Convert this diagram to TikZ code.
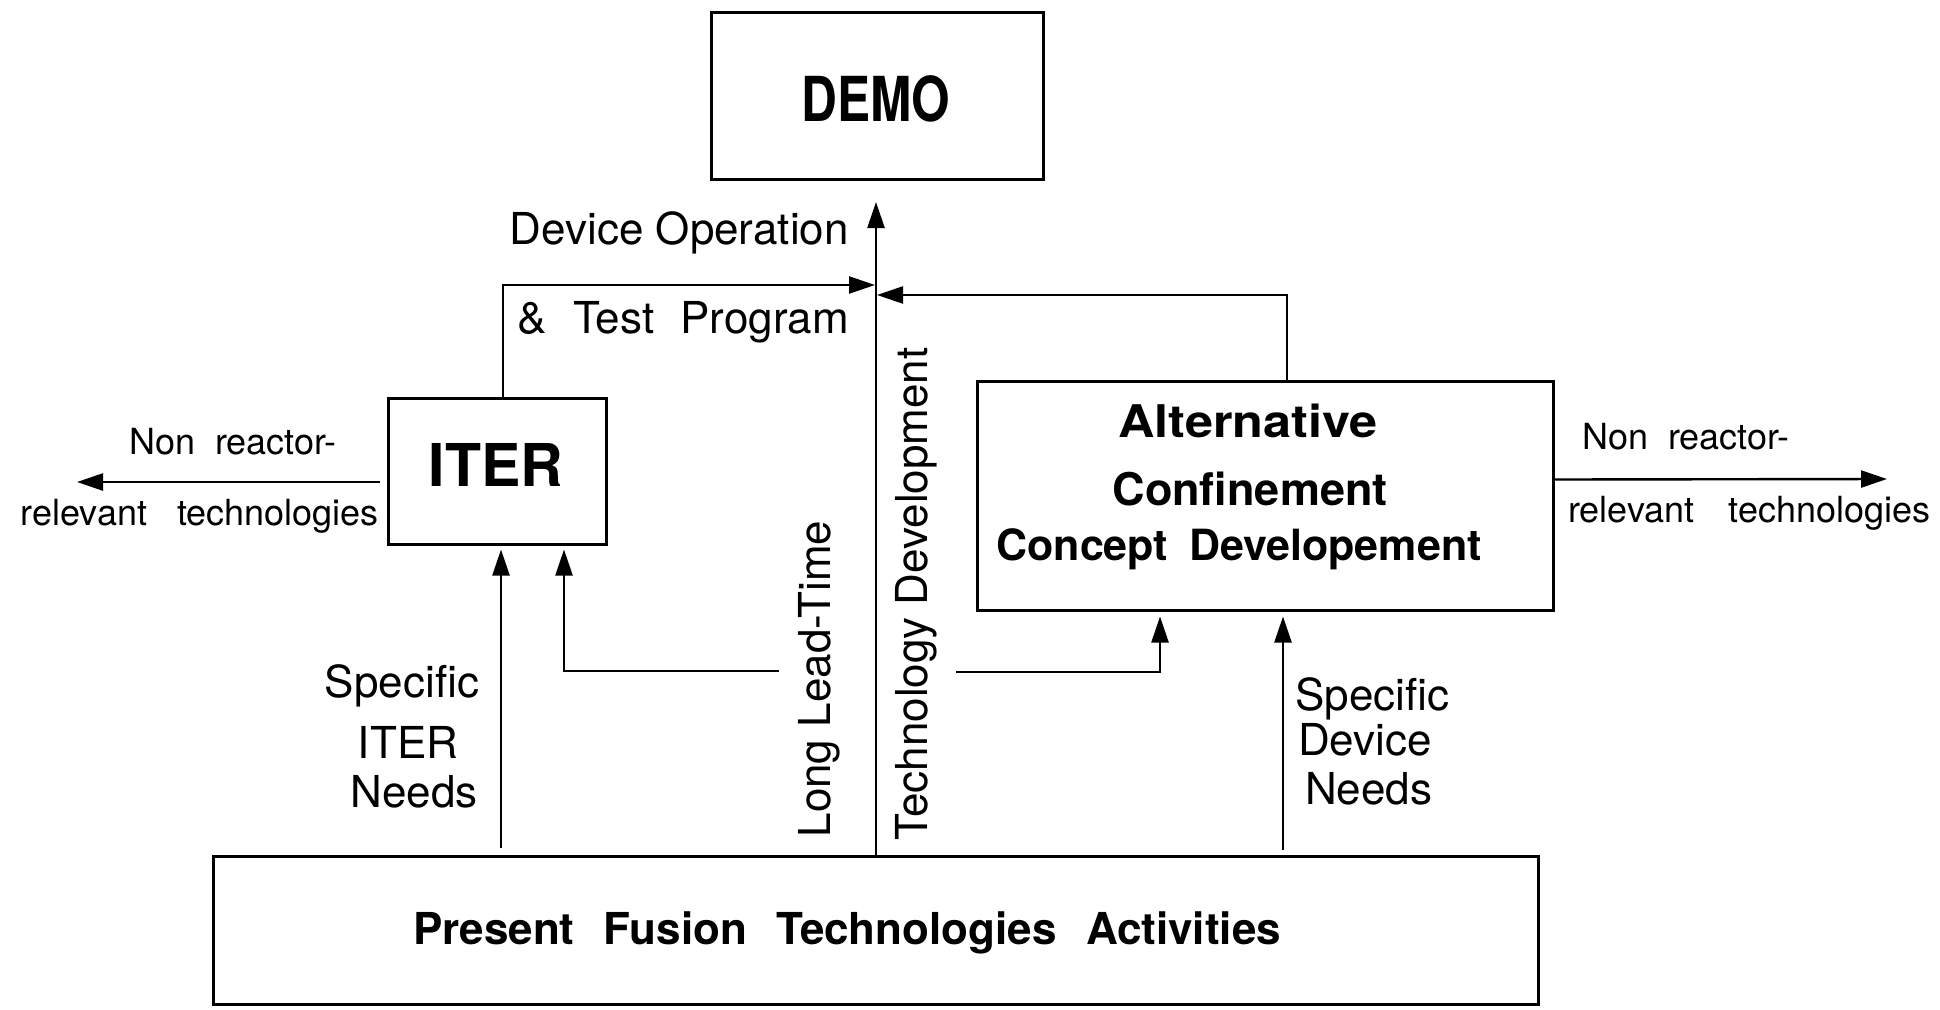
\documentclass[tikz,border=0pt]{standalone}
\usepackage{fontspec}
\setmainfont{TeX Gyre Heros}
\usepackage{graphicx}
\usetikzlibrary{arrows.meta,calc}
\begin{document}
\begin{tikzpicture}[x=1pt,y=-1pt,
  box/.style={draw,line width=3pt,inner sep=0pt},
  arr/.style={line width=2.4pt,-{Triangle[length=26pt,width=17pt]}},
  lab/.style={inner sep=0pt,font=\fontsize{44}{50}\selectfont},
  side/.style={inner sep=0pt,font=\fontsize{36}{40}\selectfont},
  btxt/.style={inner sep=0pt,font=\fontsize{45}{50}\selectfont\bfseries},
]
\useasboundingbox (0,0) rectangle (1940,1009);
\fill[white] (0,0) rectangle (1940,1009);

% boxes
\node[box,minimum width=332pt,minimum height=167pt] (demo) at (877,95.5) {};
\node[box,minimum width=218pt,minimum height=146pt] (iter) at (497,471) {};
\node[box,minimum width=576pt,minimum height=229pt] (alt) at (1265,495.5) {};
\node[box,minimum width=1325pt,minimum height=148pt] (pf) at (875.5,930) {};

% box texts
\node[inner sep=0pt,font=\fontsize{62}{62}\selectfont\bfseries] (demot) at (876,99) {\scalebox{0.8}[1]{DEMO}};
\node[inner sep=0pt,font=\fontsize{59}{60}\selectfont\bfseries] (itert) at (496,465) {ITER};
\node[btxt] (alt1) at (1248,421) {\scalebox{1.12}[1]{Alternative}};
\node[btxt] (alt2) at (1250,489) {Confinement};
\node[btxt,font=\fontsize{43}{50}\selectfont\bfseries] (alt3) at (1239,549) {Concept\hspace{9pt} Developement};
\node[btxt,font=\fontsize{44}{50}\selectfont\bfseries] (pft) at (847,933) {Present\hspace{17pt} Fusion\hspace{17pt} Technologies\hspace{17pt} Activities};

% labels
\node[lab,anchor=east] (dop) at (849,233) {Device Operation};
\node[lab,anchor=east] (tp) at (849,322) {\&\hspace{14pt} Test\hspace{14pt} Program};
\node[side] (lnr) at (233,442) {Non\hspace{10pt} reactor-};
\node[side,anchor=east] (lrt) at (379,516) {relevant\hspace{20pt} technologies};
\node[side] (rnr) at (1686,437) {Non\hspace{10pt} reactor-};
\node[side,anchor=west] (rrt) at (1568,513) {relevant\hspace{24pt} technologies};
\node[lab] (s1) at (402,686) {Specific};
\node[lab] (s2) at (408,742) {ITER};
\node[lab] (s3) at (414,792) {Needs};
\node[lab,anchor=west] (d1) at (1295,699) {Specific};
\node[lab,anchor=west] (d2) at (1298,740) {Device};
\node[lab,anchor=west] (d3) at (1305,789) {Needs};
\node[lab,rotate=90] (llt) at (819,679) {Long Lead-Time};
\node[lab,rotate=90] (tdv) at (916,594) {Technology Development};

% coordinates
\coordinate (tip) at (876,202);
\coordinate (jl) at (875,285);
\coordinate (jr) at (877,295);
\coordinate (lend) at (77,482);
\coordinate (rend) at (1887,479);
\coordinate (lls) at (779,671);
\coordinate (tds) at (956,672);

% connectors
\draw[arr] (pf.north -| tip) -- (tip);
\draw[arr] ($(iter.north)+(6,0)$) |- (jl);
\draw[arr] ($(alt.north)+(22,0)$) |- (jr);
\draw[arr] ($(iter.west)+(-7,11)$) -- (lend);
\draw[arr] ($(alt.east)+(0,-16)$) -- (rend);
\draw[arr] ($(pf.north -| iter.south)+(4,-7)$) -- ($(iter.south)+(4,4)$);
\draw[arr] (lls) -| ($(iter.south)+(67,4)$);
\draw[arr] (tds) -| ($(alt.south)+(-105,5)$);
\draw[arr] ($(pf.north -| alt.south)+(18,-5)$) -- ($(alt.south)+(18,5)$);
\end{tikzpicture}
\end{document}
